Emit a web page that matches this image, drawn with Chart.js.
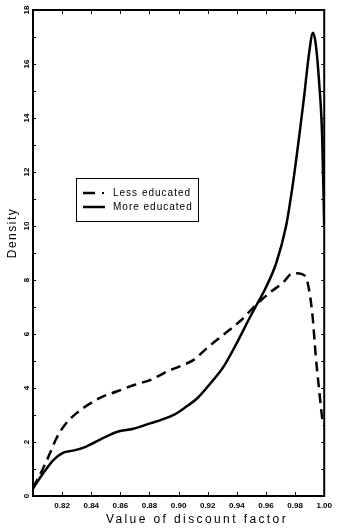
<!DOCTYPE html>
<html>
<head>
<meta charset="utf-8">
<script src="https://cdn.jsdelivr.net/npm/chart.js@4.4.1/dist/chart.umd.min.js"></script>
<style>
  body { margin: 0; background: #fff; }
  canvas { display: block; }
</style>
</head>
<body>
<canvas id="density" width="337" height="528"></canvas>
<script>
// values
const seriesNames = ['Less educated', 'More educated'];

const lessX = [0.800, 0.807, 0.8116, 0.8161, 0.8218, 0.8297, 0.8388, 0.8478, 0.8569, 0.870,
    0.8812, 0.8925, 0.9039, 0.9106, 0.9197, 0.931, 0.9423, 0.9536, 0.9626, 0.9717,
    0.9784, 0.9852, 0.9886, 0.992, 0.9942, 0.9965, 0.9988, 1.000];
const lessY = [0.30, 1.03, 1.58, 2.14, 2.63, 3.06, 3.41, 3.68, 3.86, 4.12,
    4.31, 4.62, 4.87, 5.05, 5.49, 5.98, 6.48, 7.10, 7.53, 7.90,
    8.25, 8.21, 7.90, 6.66, 5.17, 3.94, 2.82, 2.60];

const moreX = [0.800, 0.807, 0.814, 0.8205, 0.8275, 0.8365, 0.848, 0.858, 0.869, 0.881,
    0.888, 0.897, 0.904, 0.913, 0.922, 0.931, 0.940, 0.949, 0.954, 0.959, 0.967,
    0.9737, 0.9782, 0.9828, 0.9862, 0.9896, 0.9923, 0.9941, 0.9964, 0.9986, 1.000];
const moreY = [0.28, 0.84, 1.33, 1.60, 1.68, 1.83, 2.14, 2.38, 2.49, 2.70,
    2.82, 3.01, 3.26, 3.63, 4.18, 4.80, 5.67, 6.62, 7.12, 7.62, 8.62,
    9.97, 11.46, 13.31, 14.79, 16.40, 17.16, 16.77, 15.40, 13.30, 9.97];

const yLabelValues = [0, 2, 4, 6, 8, 10, 12, 14, 16, 18];

function toPoints(xs, ys) {
    return xs.map((x, i) => ({ x: x, y: ys[i] }));
}

// frame, inward ticks, rotated y labels, titles and the boxed legend
const framePlugin = {
    id: 'frame',
    afterDraw(chart) {
        const ctx = chart.ctx;
        const a = chart.chartArea;
        const xs = chart.scales.x;
        const ys = chart.scales.y;
        ctx.save();
        ctx.strokeStyle = '#000';
        ctx.fillStyle = '#000';

        // ticks
        ctx.lineWidth = 1;
        ctx.beginPath();
        xs.ticks.forEach(t => {
            if (t.value < 0.81 || t.value > 0.995) return;
            const px = Math.round(xs.getPixelForValue(t.value)) + 0.5;
            ctx.moveTo(px, a.bottom); ctx.lineTo(px, a.bottom - 4);
            ctx.moveTo(px, a.top); ctx.lineTo(px, a.top + 4);
        });
        ys.ticks.forEach(t => {
            if (t.value <= 0 || t.value >= 18) return;
            const py = Math.round(ys.getPixelForValue(t.value)) + 0.5;
            ctx.moveTo(a.left, py); ctx.lineTo(a.left + 3, py);
            ctx.moveTo(a.right, py); ctx.lineTo(a.right - 3, py);
        });
        ctx.stroke();

        // box
        ctx.lineWidth = 2;
        ctx.strokeRect(a.left, a.top, a.right - a.left, a.bottom - a.top);

        // y tick labels, rotated
        ctx.font = 'bold 8px "Liberation Sans", Arial, sans-serif';
        ctx.textAlign = 'center';
        ctx.textBaseline = 'middle';
        yLabelValues.forEach(v => {
            const py = ys.getPixelForValue(v);
            ctx.save();
            ctx.translate(a.left - 6, py);
            ctx.rotate(-Math.PI / 2);
            ctx.fillText(String(v), 0, 0);
            ctx.restore();
        });

        // axis titles
        ctx.font = '12px "Liberation Sans", Arial, sans-serif';
        ctx.letterSpacing = '1.5px';
        ctx.save();
        ctx.translate(13, 233);
        ctx.rotate(-Math.PI / 2);
        ctx.fillText('Density', 0, 0);
        ctx.restore();
        ctx.letterSpacing = '2.4px';
        ctx.fillText('Value of discount factor', 197, 520);

        // legend
        const lx = 76, ly = 178, lw = 122, lh = 43;
        ctx.lineWidth = 1;
        ctx.strokeRect(lx + 0.5, ly + 0.5, lw, lh);
        ctx.font = '10px "Liberation Sans", Arial, sans-serif';
        ctx.letterSpacing = '1px';
        ctx.textAlign = 'left';
        ctx.lineWidth = 2.5;
        // dash + dot sample
        ctx.beginPath();
        ctx.moveTo(lx + 7, ly + 15); ctx.lineTo(lx + 19, ly + 15);
        ctx.stroke();
        ctx.fillRect(lx + 26, ly + 14, 2, 2);
        ctx.fillText(seriesNames[0], lx + 37, ly + 15.5);
        // solid sample
        ctx.beginPath();
        ctx.moveTo(lx + 7, ly + 29); ctx.lineTo(lx + 29, ly + 29);
        ctx.stroke();
        ctx.fillText(seriesNames[1], lx + 37, ly + 29.5);
        ctx.restore();
    }
};

new Chart(document.getElementById('density'), {
    type: 'line',
    data: {
        datasets: [
            {
                label: seriesNames[0],
                data: toPoints(lessX, lessY),
                borderColor: '#000',
                borderWidth: 2.5,
                borderDash: [10, 6],
                pointRadius: 0,
                fill: false,
                cubicInterpolationMode: 'monotone'
            },
            {
                label: seriesNames[1],
                data: toPoints(moreX, moreY),
                borderColor: '#000',
                borderWidth: 2.5,
                pointRadius: 0,
                fill: false,
                cubicInterpolationMode: 'monotone'
            }
        ]
    },
    options: {
        responsive: false,
        animation: false,
        layout: { padding: { top: 10, right: 10, left: 0, bottom: 0 } },
        plugins: {
            legend: { display: false },
            tooltip: { enabled: false }
        },
        scales: {
            x: {
                type: 'linear',
                min: 0.8,
                max: 1.0,
                grid: { display: false, drawTicks: false },
                border: { display: false },
                ticks: {
                    stepSize: 0.02,
                    padding: 5,
                    maxRotation: 0,
                    color: '#000',
                    font: { family: '"Liberation Sans", Arial, sans-serif', size: 8, weight: 'bold' },
                    callback: v => (v < 0.81 ? '' : v.toFixed(2))
                },
                afterFit: s => { s.height = 32; }
            },
            y: {
                min: 0,
                max: 18,
                grid: { display: false, drawTicks: false },
                border: { display: false },
                ticks: { stepSize: 1, display: false },
                afterFit: s => { s.width = 33; }
            }
        }
    },
    plugins: [framePlugin]
});
</script>
</body>
</html>
